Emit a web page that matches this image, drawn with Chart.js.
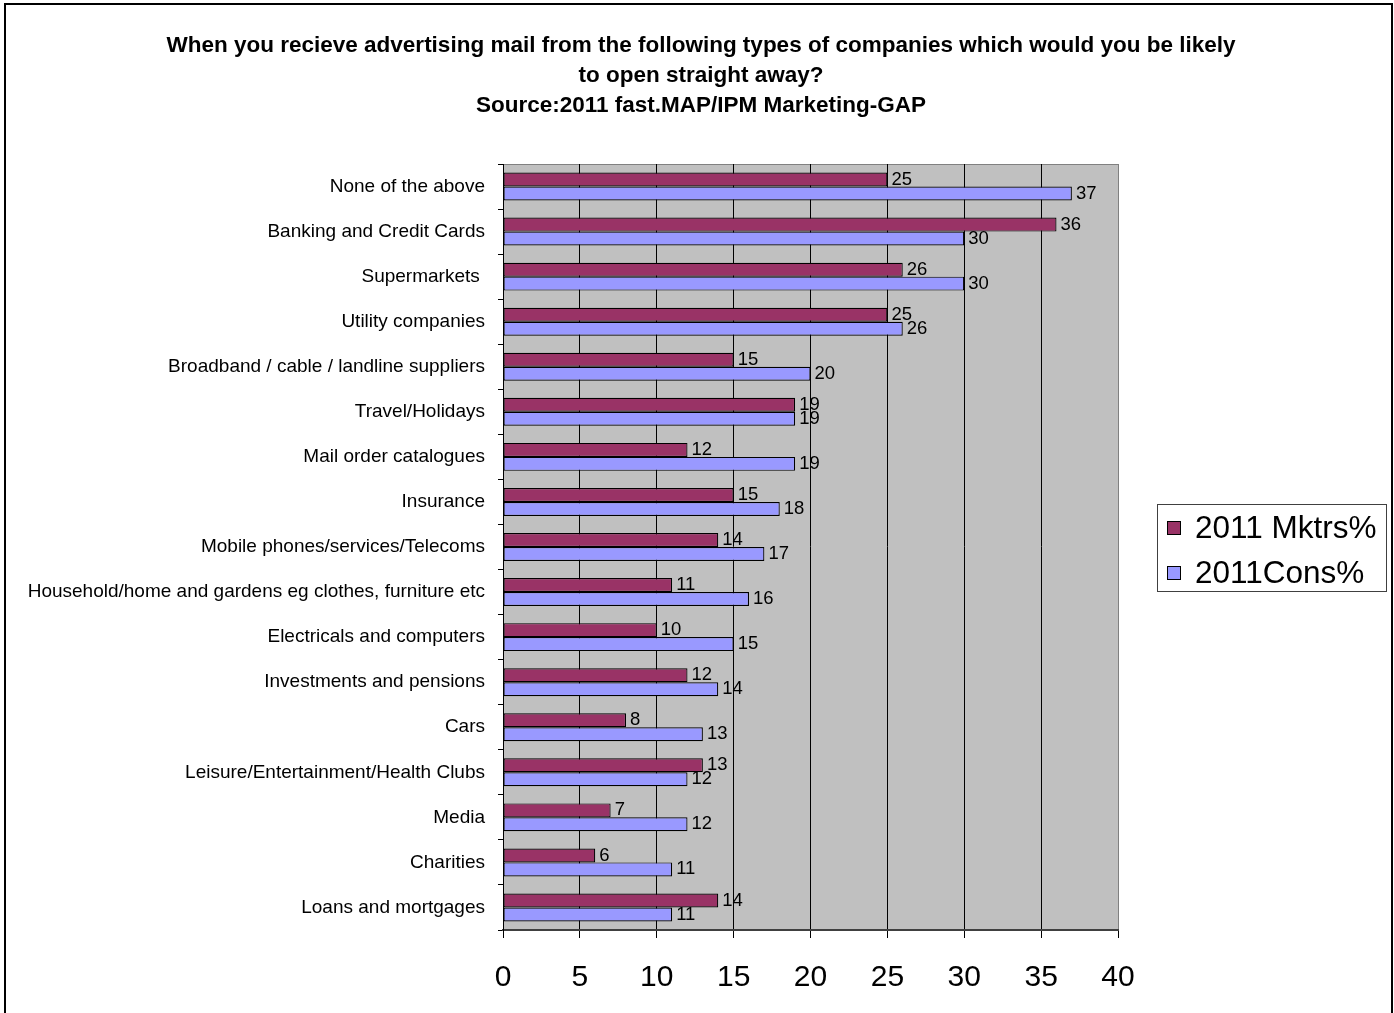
<!DOCTYPE html>
<html>
<head>
<meta charset="utf-8">
<title>Advertising mail opened straight away</title>
<script src="https://cdn.jsdelivr.net/npm/chart.js@4.4.1/dist/chart.umd.min.js"></script>
<style>
  html, body { margin: 0; padding: 0; background: #fff; }
  canvas { display: block; }
</style>
</head>
<body>
<canvas id="mailChart" width="1394" height="1013"></canvas>
<script>
const categories = [
  'None of the above',
  'Banking and Credit Cards',
  'Supermarkets ',
  'Utility companies',
  'Broadband / cable / landline suppliers',
  'Travel/Holidays',
  'Mail order catalogues',
  'Insurance',
  'Mobile phones/services/Telecoms',
  'Household/home and gardens eg clothes, furniture etc',
  'Electricals and computers',
  'Investments and pensions',
  'Cars',
  'Leisure/Entertainment/Health Clubs',
  'Media',
  'Charities',
  'Loans and mortgages'
];
const marketersPct = [25, 36, 26, 25, 15, 19, 12, 15, 14, 11, 10, 12, 8, 13, 7, 6, 14];
const consumersPct = [37, 30, 30, 26, 20, 19, 19, 18, 17, 16, 15, 14, 13, 12, 12, 11, 11];
const seriesNames = ['2011 Mktrs%', '2011Cons%'];
const titleLines = [
  'When you recieve advertising mail from the following types of companies which would you be likely',
  'to open straight away?',
  'Source:2011 fast.MAP/IPM Marketing-GAP'
];
const xTicks = [0, 5, 10, 15, 20, 25, 30, 35, 40];

const FONT = '"Liberation Sans", Arial, sans-serif';
const MAROON = '#993366';
const LAVENDER = '#9999FF';

// grey plot background, frame, outer chart border and title
const frame = {
  id: 'frame',
  beforeDraw(chart) {
    const { ctx, chartArea: a } = chart;
    ctx.save();
    ctx.fillStyle = '#fff';
    ctx.fillRect(0, 0, chart.width, chart.height);
    ctx.strokeStyle = '#000';
    ctx.lineWidth = 2;
    ctx.strokeRect(5, 4, 1387, 1020);
    ctx.fillStyle = '#C0C0C0';
    ctx.fillRect(a.left, a.top, a.right - a.left, a.bottom - a.top);
    ctx.strokeStyle = '#808080';
    ctx.lineWidth = 1;
    ctx.strokeRect(a.left + 0.5, a.top + 0.5, a.right - a.left, a.bottom - a.top);

    ctx.fillStyle = '#000';
    ctx.font = 'bold 22.5px ' + FONT;
    ctx.textAlign = 'center';
    ctx.textBaseline = 'middle';
    titleLines.forEach((line, i) => ctx.fillText(line, 701, 46 + i * 30));
    ctx.restore();
  }
};

// value labels to the right of each bar
const barLabels = {
  id: 'barLabels',
  afterDatasetsDraw(chart) {
    const { ctx } = chart;
    ctx.save();
    ctx.fillStyle = '#000';
    ctx.font = '18.5px ' + FONT;
    ctx.textAlign = 'left';
    ctx.textBaseline = 'middle';
    chart.data.datasets.forEach((ds, di) => {
      chart.getDatasetMeta(di).data.forEach((bar, i) => {
        ctx.fillText(String(ds.data[i]), bar.x + 4, bar.y);
      });
    });
    ctx.restore();
  }
};

// boxed legend on the right
const sideLegend = {
  id: 'sideLegend',
  afterDraw(chart) {
    const { ctx } = chart;
    const colors = [MAROON, LAVENDER];
    ctx.save();
    ctx.strokeStyle = '#404040';
    ctx.lineWidth = 1;
    ctx.strokeRect(1157.5, 504.5, 229, 87);
    ctx.font = '31.5px ' + FONT;
    ctx.textBaseline = 'middle';
    ctx.textAlign = 'left';
    seriesNames.forEach((name, i) => {
      const cy = 528 + i * 45;
      ctx.fillStyle = colors[i];
      ctx.fillRect(1167, cy - 7, 14, 14);
      ctx.strokeStyle = '#000';
      ctx.strokeRect(1167.5, cy - 6.5, 13, 13);
      ctx.fillStyle = '#000';
      ctx.fillText(name, 1195, cy + 1);
    });
    ctx.restore();
  }
};

new Chart(document.getElementById('mailChart'), {
  type: 'bar',
  data: {
    labels: categories,
    datasets: [
      {
        label: seriesNames[0],
        data: marketersPct,
        backgroundColor: MAROON,
        borderColor: '#000',
        borderWidth: 1.2,
        borderSkipped: false,
        categoryPercentage: 0.62,
        barPercentage: 1.0
      },
      {
        label: seriesNames[1],
        data: consumersPct,
        backgroundColor: LAVENDER,
        borderColor: '#000',
        borderWidth: 1.2,
        borderSkipped: false,
        categoryPercentage: 0.62,
        barPercentage: 1.0
      }
    ]
  },
  options: {
    indexAxis: 'y',
    responsive: false,
    animation: false,
    devicePixelRatio: 1,
    layout: { padding: { left: 0, top: 164, right: 276, bottom: 0 } },
    plugins: {
      legend: { display: false },
      title: { display: false },
      tooltip: { enabled: false }
    },
    scales: {
      x: {
        min: 0,
        max: 40,
        afterBuildTicks(scale) {
          scale.ticks = xTicks.map(v => ({ value: v }));
        },
        afterFit(scale) { scale.height = 83; },
        grid: {
          color: c => (c.tick && c.tick.value === 40 ? '#808080' : '#000'),
          lineWidth: 1,
          tickLength: 8,
          tickColor: '#000'
        },
        border: { display: true, color: '#404040', width: 2 },
        ticks: {
          color: '#000',
          font: { family: FONT, size: 30 },
          padding: 22,
          maxRotation: 0
        }
      },
      y: {
        afterFit(scale) { scale.width = 503; },
        grid: {
          offset: true,
          drawOnChartArea: false,
          tickLength: 5,
          tickColor: '#000'
        },
        border: { display: true, color: '#000', width: 1 },
        ticks: {
          color: '#000',
          font: { family: FONT, size: 19 },
          padding: 13,
          autoSkip: false
        }
      }
    }
  },
  plugins: [frame, barLabels, sideLegend]
});
</script>
</body>
</html>
